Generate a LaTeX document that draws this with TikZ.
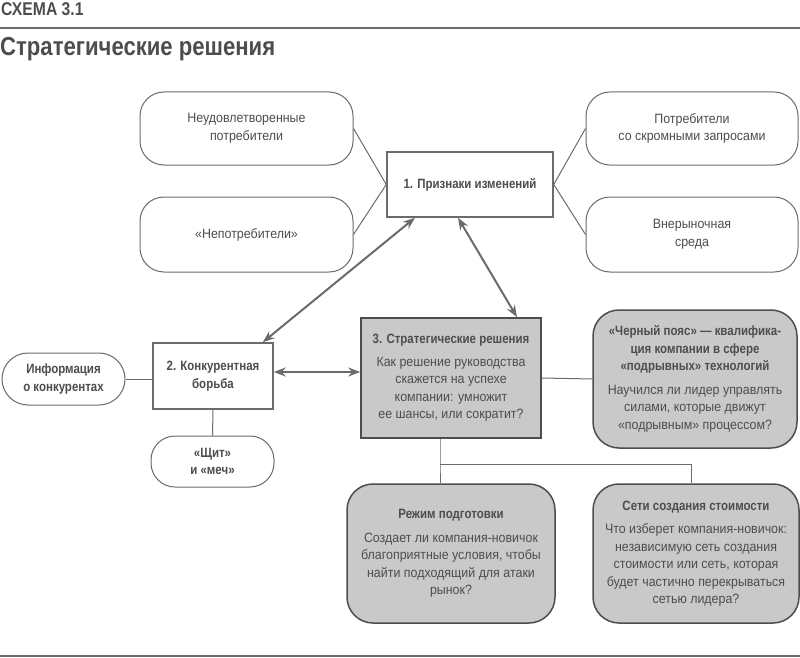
\documentclass[tikz,border=0pt]{standalone}
\usepackage{fontspec}
\setmainfont[FakeStretch=0.92, BoldFeatures={FakeStretch=0.85}]{Liberation Sans}
\usepackage{xcolor}
\usepackage{tikz}
\usetikzlibrary{shapes,arrows.meta,positioning,calc}

\definecolor{inkgray}{HTML}{4D4D4D}
\definecolor{linegray}{HTML}{6B6B6B}
\definecolor{boxgray}{HTML}{C9C9C9}

\begin{document}
\begin{tikzpicture}[x=1pt, y=-1pt,
    every node/.style={text=inkgray, font=\fontsize{13.5}{17.5}\selectfont, align=center, inner sep=0pt},
    soft/.style={draw=linegray, line width=1pt, rounded corners=24pt, fill=white},
    sharp/.style={draw=linegray, line width=1.5pt, fill=white},
    shade/.style={draw=inkgray, line width=1.5pt, fill=boxgray},
    link/.style={draw=linegray, line width=1pt},
    twoway/.style={{Stealth[length=12pt,width=9pt]}-{Stealth[length=12pt,width=9pt]}, draw=linegray, line width=2pt}]
    \useasboundingbox (0,0) rectangle (800,658);

    % header
    \node[anchor=base west, font=\fontsize{18.5}{20}\bfseries\selectfont] (label) at (1,16) {СХЕМА 3.1};
    \node[anchor=base west, font=\fontsize{26}{28}\bfseries\selectfont] (title) at (0,56) {Стратегические решения};
    \coordinate (topl) at (0,28);
    \coordinate (topr) at (800,28);
    \coordinate (botl) at (0,656);
    \coordinate (botr) at (800,656);
    \draw[linegray, line width=1.5pt] (topl) -- (topr);
    \draw[linegray, line width=1.5pt] (botl) -- (botr);

    % signs of change
    \node[sharp, minimum width=166pt, minimum height=65pt] (signs) at (470,184.5) {\textbf{1. Признаки изменений}};
    \node[soft, minimum width=213pt, minimum height=73pt] (unsat) at (246.5,128.5) {Неудовлетворенные\\ потребители};
    \node[soft, minimum width=213pt, minimum height=75pt] (noncons) at (246.5,234.5) {«Непотребители»};
    \node[soft, minimum width=212pt, minimum height=73pt] (modest) at (692,128.5) {Потребители\\ со скромными запросами};
    \node[soft, minimum width=212pt, minimum height=75pt] (outside) at (692,234.5) {Внерыночная\\ среда};

    % competition
    \node[sharp, minimum width=120pt, minimum height=66pt] (rivalry) at (213,376) {\textbf{2. Конкурентная}\\ \textbf{борьба}};
    \node[soft, rounded corners=26pt, minimum width=123pt, minimum height=52pt] (info) at (63.5,379) {\textbf{Информация}\\ \textbf{о конкурентах}};
    \node[soft, minimum width=123pt, minimum height=51pt] (shield) at (212.5,461.5) {\textbf{«Щит»}\\ \textbf{и «меч»}};

    % strategic decisions
    \node[shade, minimum width=180pt, minimum height=120pt] (decide) at (451,378) {\textbf{3. Стратегические решения}\\[5pt] Как решение руководства\\ скажется на успехе\\ компании: умножит\\ ее шансы, или сократит?};
    \node[shade, rounded corners=26pt, minimum width=204pt, minimum height=138pt] (belt) at (695,379) {\textbf{«Черный пояс» --- квалифика-}\\ \textbf{ция компании в сфере}\\ \textbf{«подрывных» технологий}\\[6pt] Научился ли лидер управлять\\ силами, которые движут\\ «подрывным» процессом?};
    \node[shade, rounded corners=26pt, minimum width=208pt, minimum height=139pt] (prep) at (451,553.5) {\textbf{Режим подготовки}\\[6pt] Создает ли компания-новичок\\ благоприятные условия, чтобы\\ найти подходящий для атаки\\ рынок?};
    \node[shade, rounded corners=26pt, minimum width=206pt, minimum height=139pt] (nets) at (696,553.5) {\textbf{Сети создания стоимости}\\[6pt] Что изберет компания-новичок:\\ независимую сеть создания\\ стоимости или сеть, которая\\ будет частично перекрываться\\ сетью лидера?};

    % thin links
    \draw[link] (unsat.east) -- (signs.west);
    \draw[link] (noncons.east) -- (signs.west);
    \draw[link] (modest.west) -- (signs.east);
    \draw[link] (outside.west) -- (signs.east);
    \draw[link] (info.east) -- (info.east -| rivalry.west);
    \draw[link] (rivalry.south) -- (shield.north);
    \draw[link] (decide.east) -- (belt.west);
    \coordinate (fork) at (440,464);
    \draw[link] ([xshift=-11pt]decide.south) -- (fork) -- (fork |- prep.north);
    \draw[link] (fork) -| ([xshift=-5pt]nets.north);

    % thick arrows
    \draw[twoway] ([xshift=-55pt]signs.south) -- ([xshift=-11pt]rivalry.north east);
    \draw[twoway] ([xshift=-12pt]signs.south) -- ([xshift=66pt]decide.north);
    \draw[twoway] ([yshift=4pt]rivalry.east) -- ([yshift=4pt]rivalry.east -| decide.west);
\end{tikzpicture}
\end{document}
